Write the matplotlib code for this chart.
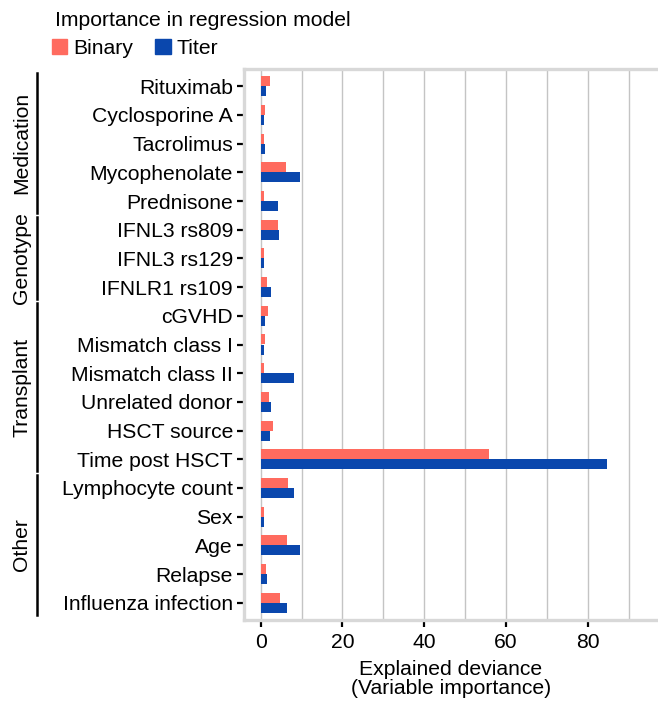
import matplotlib
matplotlib.use("Agg")
import matplotlib.pyplot as plt
import numpy as np
from matplotlib.transforms import blended_transform_factory
from matplotlib.patches import Patch

plt.rcParams['font.family'] = ['Liberation Sans', 'DejaVu Sans']

variables = ["Rituximab", "Cyclosporine A", "Tacrolimus", "Mycophenolate", "Prednisone",
             "IFNL3 rs809", "IFNL3 rs129", "IFNLR1 rs109",
             "cGVHD", "Mismatch class I", "Mismatch class II", "Unrelated donor",
             "HSCT source", "Time post HSCT",
             "Lymphocyte count", "Sex", "Age", "Relapse", "Influenza infection"]
binary = [2.2, 1.0, 0.8, 6.1, 0.8, 4.3, 0.9, 1.5, 1.8, 1.0, 0.9, 2.1, 2.9, 55.9,
          6.6, 0.8, 6.5, 1.3, 4.8]
titer = [1.2, 0.7, 1.1, 9.6, 4.2, 4.5, 0.7, 2.4, 1.1, 0.7, 8.2, 2.5, 2.3, 84.7,
         8.2, 0.8, 9.5, 1.5, 6.4]
groups = ["Medication", "Genotype", "Transplant", "Other"]
group_sizes = [5, 3, 6, 5]
xticks = [0, 20, 40, 60, 80]

c_bin = "#FF6B5F"
c_tit = "#0A47AD"

fig = plt.figure(figsize=(6.58, 7.07), dpi=100)
ax = fig.add_axes([244/658, (707-620)/707, 1 - 244/658, (620-69)/707])

y = np.arange(len(variables))
h = 0.35
ax.barh(y - h/2, binary, height=h, color=c_bin, zorder=3)
ax.barh(y + h/2, titer, height=h, color=c_tit, zorder=3)

ax.set_ylim(len(variables) - 0.4, -0.6)
ax.set_xlim(-4.1, 97.2)
ax.set_yticks(y)
ax.set_yticklabels(variables, fontsize=15.2)
ax.set_xticks(xticks)
ax.set_xticklabels([str(t) for t in xticks], fontsize=15.2)
ax.set_xticks(np.arange(0, 100, 10), minor=True)
ax.grid(True, axis='x', which='both', color='#c4c4c4', lw=1.0, zorder=0)
ax.tick_params(axis='x', which='minor', length=0)
ax.tick_params(axis='both', which='major', length=5, width=1.6, color='black', pad=4)
ax.tick_params(axis='y', pad=3)

for s in ['left', 'top', 'bottom']:
    ax.spines[s].set_color('#d8d8d8')
    ax.spines[s].set_linewidth(2.4)
ax.spines['right'].set_visible(False)

ax.set_xlabel("Explained deviance\n(Variable importance)", fontsize=15.2, labelpad=6,
              linespacing=1.0)

# group brackets
tr = blended_transform_factory(fig.transFigure, ax.transData)
start = 0
for g, n in zip(groups, group_sizes):
    y0 = start - 0.45
    y1 = start + n - 1 + 0.42
    ax.plot([37/658, 37/658], [y0, y1], transform=tr, color='black', lw=1.8,
            clip_on=False)
    ax.text(22/658, (y0 + y1)/2, g, transform=tr, rotation=90, ha='center',
            va='center', fontsize=15.2)
    start += n

# legend
fig.text(55/658, 1 - 20/707, "Importance in regression model", fontsize=15.2,
         ha='left', va='center')
handles = [Patch(color=c_bin, label="Binary"), Patch(color=c_tit, label="Titer")]
fig.legend(handles=handles, loc='upper left', bbox_to_anchor=(37/658, 1 - 24/707),
           ncol=2, frameon=False, fontsize=15.2, handlelength=0.72, handleheight=0.72,
           handletextpad=0.3, columnspacing=1.05, borderpad=0.2)

fig.savefig("out.png", dpi=100)
